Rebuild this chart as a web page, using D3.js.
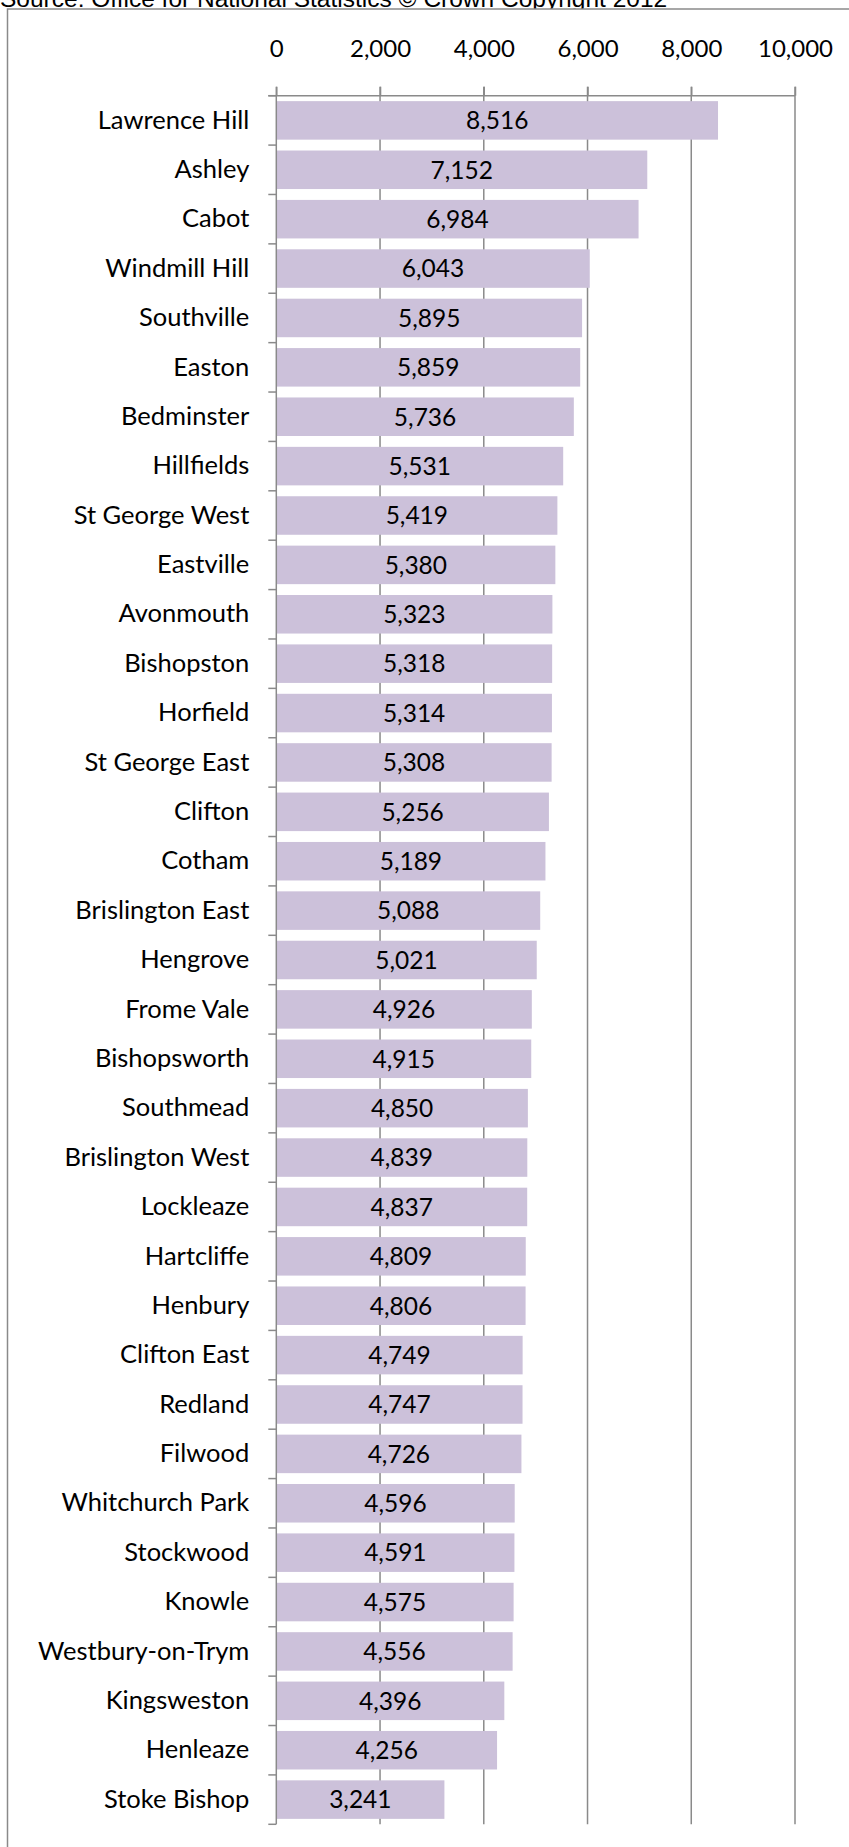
<!DOCTYPE html>
<meta charset="utf-8">
<style>
body { margin: 0; background: #fff; }
svg text { fill: #000; }
.src { font-family: "Liberation Sans", Arial, sans-serif; font-size: 24.5px; }
.lbl { font-family: Lato, sans-serif; }
</style>
<svg width="849" height="1847"></svg>
<script src="https://d3js.org/d3.v7.min.js"></script>
<script>
// wards, sorted as in the source chart
var wards = ["Lawrence Hill","Ashley","Cabot","Windmill Hill","Southville","Easton","Bedminster",
  "Hillfields","St George West","Eastville","Avonmouth","Bishopston","Horfield","St George East",
  "Clifton","Cotham","Brislington East","Hengrove","Frome Vale","Bishopsworth","Southmead",
  "Brislington West","Lockleaze","Hartcliffe","Henbury","Clifton East","Redland","Filwood",
  "Whitchurch Park","Stockwood","Knowle","Westbury-on-Trym","Kingsweston","Henleaze","Stoke Bishop"];
var values = [8516,7152,6984,6043,5895,5859,5736,5531,5419,5380,5323,5318,5314,5308,5256,5189,
  5088,5021,4926,4915,4850,4839,4837,4809,4806,4749,4747,4726,4596,4591,4575,4556,4396,4256,3241];
var xTicks = [0,2000,4000,6000,8000,10000];
var sourceText = "Source: Office for National Statistics \u00A9 Crown Copyright 2012";

var data = wards.map(function(w, i){ return {name: w, value: values[i]}; });

var svg = d3.select("svg");
var top0 = 95.7, bottom0 = 1824.3, left0 = 276.3, right0 = 795;
var gridCol = "#8a8a8a";

// source line, partly cut at the top edge
svg.append("text").attr("class","src").attr("x", 0).attr("y", 7).text(sourceText);

// chart frame (runs off right and bottom)
svg.append("rect")
  .attr("x", 7.5).attr("y", 9).attr("width", 900).attr("height", 1900)
  .attr("fill", "#fff").attr("stroke", gridCol).attr("stroke-width", 1.5);

var x = d3.scaleLinear().domain([0, 10000]).range([left0, right0]);
var y = d3.scaleBand().domain(wards).range([top0, bottom0]).paddingInner(0.22).paddingOuter(0.11);

// vertical gridlines
svg.append("g").selectAll("line").data(xTicks.slice(1)).enter().append("line")
  .attr("x1", function(d){ return x(d); }).attr("x2", function(d){ return x(d); })
  .attr("y1", top0 - 9).attr("y2", bottom0)
  .attr("stroke", gridCol).attr("stroke-width", 1.5);

// bars
svg.append("g").selectAll("rect").data(data).enter().append("rect")
  .attr("x", x(0))
  .attr("y", function(d){ return y(d.name); })
  .attr("width", function(d){ return x(d.value) - x(0); })
  .attr("height", y.bandwidth())
  .attr("fill", "#ccc1da");

// value labels centred in bars
svg.append("g").attr("class","lbl").selectAll("text").data(data).enter().append("text")
  .attr("x", function(d){ return (x(0) + x(d.value)) / 2; })
  .attr("y", function(d){ return y(d.name) + y.bandwidth() / 2; })
  .attr("dy", "0.36em")
  .attr("text-anchor", "middle")
  .attr("font-size", 24.5)
  .text(function(d){ return d3.format(",")(d.value); });

// top axis
var xAxis = d3.axisTop(x).tickValues(xTicks).tickFormat(d3.format(",")).tickSizeInner(9).tickSizeOuter(0).tickPadding(30);
var gx = svg.append("g").attr("transform", "translate(0," + top0 + ")").call(xAxis);
gx.select(".domain").remove();
gx.selectAll(".tick line").attr("stroke", gridCol).attr("stroke-width", 1.5);
gx.selectAll("text").attr("font-family", "Lato, sans-serif").attr("font-size", 24).attr("fill", "#000");
svg.append("line").attr("x1", left0 - 8).attr("x2", right0).attr("y1", top0).attr("y2", top0)
  .attr("stroke", gridCol).attr("stroke-width", 1.5);

// left axis: labels from axisLeft, ticks at category boundaries
var yAxis = d3.axisLeft(y).tickSize(0).tickPadding(27);
var gy = svg.append("g").attr("transform", "translate(" + left0 + ",0)").call(yAxis);
gy.select(".domain").remove();
gy.selectAll("text").attr("font-family", "Lato, sans-serif").attr("font-size", 25.5).attr("fill", "#000");

var step = y.step();
var bounds = d3.range(wards.length + 1).map(function(i){ return top0 + i * step; });
svg.append("g").selectAll("line").data(bounds).enter().append("line")
  .attr("x1", left0 - 8).attr("x2", left0)
  .attr("y1", function(d){ return d; }).attr("y2", function(d){ return d; })
  .attr("stroke", gridCol).attr("stroke-width", 1.5);
svg.append("line").attr("x1", left0).attr("x2", left0).attr("y1", top0 - 9).attr("y2", bottom0)
  .attr("stroke", gridCol).attr("stroke-width", 1.5);
</script>
